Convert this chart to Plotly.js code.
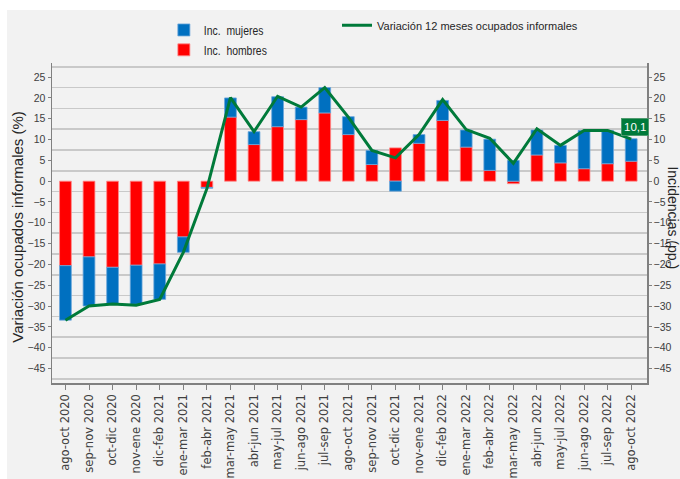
<!DOCTYPE html>
<html>
<head>
<meta charset="utf-8">
<script src="https://cdn.plot.ly/plotly-3.0.1.min.js"></script>
<style>
  html, body { margin: 0; padding: 0; background: #ffffff; width: 680px; height: 479px; overflow: hidden; }
  #chart { position: absolute; left: 7px; top: 10px; width: 673px; height: 469px; }
  #chart .legendtext { transform-box: fill-box; transform-origin: 0 50%; transform: scaleX(0.8); }
</style>
</head>
<body>
<div id="chart"></div>
<script>
const categories = ["ago-oct 2020","sep-nov 2020","oct-dic 2020","nov-ene 2020","dic-feb 2021","ene-mar 2021","feb-abr 2021","mar-may 2021","abr-jun 2021","may-jul 2021","jun-ago 2021","jul-sep 2021","ago-oct 2021","sep-nov 2021","oct-dic 2021","nov-ene 2021","dic-feb 2022","ene-mar 2022","feb-abr 2022","mar-may 2022","abr-jun 2022","may-jul 2022","jun-ago 2022","jul-sep 2022","ago-oct 2022"];
const hombres = [-20.3, -18.2, -20.7, -20.2, -19.9, -13.4, -1.5, 15.4, 8.8, 13.1, 14.8, 16.4, 11.2, 4.0, 8.0, 9.1, 14.6, 8.2, 2.6, -0.6, 6.3, 4.4, 3.0, 4.2, 4.8];
const mujeres = [-13.1, -11.8, -8.7, -9.4, -8.5, -3.7, -0.2, 4.6, 3.1, 7.2, 3.0, 6.1, 4.3, 3.4, -2.4, 2.1, 4.8, 4.1, 7.5, 5.0, 6.0, 4.2, 9.2, 8.0, 5.4];
const variacion = [-33.4, -30.0, -29.5, -29.8, -28.4, -17.1, -1.8, 20.1, 11.9, 20.4, 17.8, 22.5, 15.4, 7.4, 5.6, 11.2, 19.6, 12.4, 10.3, 4.3, 12.6, 8.6, 12.2, 12.2, 10.1];
const lastLabel = "10,1";

const sans = "Liberation Sans, Arial, sans-serif";
const yRange = [-48.5, 28.4];
const gridColor = "#c9c9c9";
const axisColor = "#808080";

const traces = [
  { type: "bar", name: "Inc.  hombres", x: categories, y: hombres, marker: { color: "#ff0000", line: { color: "#ff8a8a", width: 0.8 } }, width: 0.5, legend: "legend", xaxis: "x", yaxis: "y" },
  { type: "bar", name: "Inc.  mujeres", x: categories, y: mujeres, marker: { color: "#0070c0", line: { color: "#6aa6da", width: 0.8 } }, width: 0.5, legend: "legend", xaxis: "x", yaxis: "y" },
  { type: "scatter", mode: "lines", name: "Variación 12 meses ocupados informales", x: categories, y: variacion, line: { color: "#007a3a", width: 3 }, legend: "legend2", xaxis: "x", yaxis: "y2" }
];

const yCommon = {
  range: yRange, tick0: 0, dtick: 5, showgrid: false, zeroline: false,
  showline: true, linecolor: axisColor, linewidth: 1.5,
  ticks: "outside", ticklen: 3, tickcolor: axisColor,
  tickfont: { family: sans, size: 10.5, color: "#404040" }
};

const layout = {
  width: 673, height: 469,
  paper_bgcolor: "#f2f2f2", plot_bgcolor: "#f2f2f2",
  margin: { l: 45, r: 33, t: 53, b: 96, autoexpand: false },
  barmode: "relative",
  showlegend: true,
  xaxis: {
    type: "category", range: [-0.57, 24.67], automargin: false,
    tickangle: -90, ticks: "outside", ticklen: 5, tickcolor: axisColor,
    showline: true, linecolor: axisColor, linewidth: 1.5, showgrid: false,
    tickfont: { family: "DejaVu Sans, sans-serif", size: 11.5, color: "#404040" }
  },
  yaxis: Object.assign({}, yCommon, {
    side: "left", automargin: false,
    minor: { tick0: 2.5, dtick: 5, showgrid: true, gridcolor: gridColor, gridwidth: 1.5, ticklen: 0 }
  }),
  yaxis2: Object.assign({}, yCommon, { side: "right", overlaying: "y", automargin: false }),
  legend: {
    x: 0.188, y: 1.150, xanchor: "left", yanchor: "top", traceorder: "reversed",
    bgcolor: "rgba(0,0,0,0)", font: { family: sans, size: 13, color: "#262626" }
  },
  legend2: {
    x: 0.479, y: 1.163, xanchor: "left", yanchor: "top",
    bgcolor: "rgba(0,0,0,0)", font: { family: sans, size: 11, color: "#262626" }
  },
  annotations: [
    { xref: "paper", yref: "paper", x: -0.058, y: 0.49, text: "Variación ocupados informales (%)", textangle: -90, showarrow: false, xanchor: "center", yanchor: "middle", font: { family: sans, size: 15, color: "#262626" } },
    { xref: "paper", yref: "paper", x: 1.0445, y: 0.516, text: "Incidencias (pp.)", textangle: 90, showarrow: false, xanchor: "center", yanchor: "middle", font: { family: sans, size: 14, color: "#262626" } },
    { xref: "x", yref: "y2", x: categories[categories.length - 1], y: variacion[variacion.length - 1], text: lastLabel, showarrow: false, xshift: 4, yshift: 12, bgcolor: "#007a3a", bordercolor: "#4f9a6e", borderwidth: 1, borderpad: 2, font: { family: sans, size: 11.5, color: "#ffffff" } }
  ]
};

Plotly.newPlot("chart", traces, layout, { displayModeBar: false, staticPlot: true });
</script>
</body>
</html>
